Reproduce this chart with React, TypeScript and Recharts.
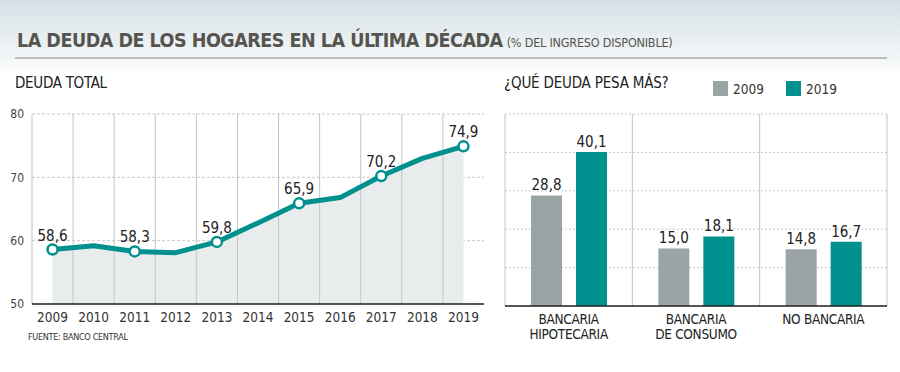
import React from 'react'
import {
  ComposedChart,
  Area,
  Line,
  XAxis,
  YAxis,
  CartesianGrid,
  ReferenceLine,
  BarChart,
  Bar,
  LabelList,
} from 'recharts'

const FONT = "'DejaVu Sans Condensed', 'Liberation Sans Narrow', Roboto, sans-serif"
const TEAL = '#00908e'
const GRAY = '#9aa4a4'

// deuda total, % del ingreso disponible
const years = [2009, 2010, 2011, 2012, 2013, 2014, 2015, 2016, 2017, 2018, 2019]
const totalDebt = [58.6, 59.2, 58.3, 58.1, 59.8, 62.8, 65.9, 66.8, 70.2, 73.0, 74.9]
const labeledYears = [2009, 2011, 2013, 2015, 2017, 2019]
const totalTicks = [50, 60, 70, 80]

// ¿qué deuda pesa más?
const debtTypes = ['BANCARIA|HIPOTECARIA', 'BANCARIA|DE CONSUMO', 'NO BANCARIA']
const debt2009 = [28.8, 15.0, 14.8]
const debt2019 = [40.1, 18.1, 16.7]
const barTicks = [0, 10, 20, 30, 40, 50]

const lineData = years.map((year, i) => ({ year, value: totalDebt[i] }))
const barData = debtTypes.map((name, i) => ({ name, y2009: debt2009[i], y2019: debt2019[i] }))

const fmt = (v: number) => v.toFixed(1).replace('.', ',')

const PointDot = (props: any) => {
  const { cx, cy, payload } = props
  if (!labeledYears.includes(payload.year)) return <g key={payload.year} />
  return <circle key={payload.year} cx={cx} cy={cy} r={5} fill="#fff" stroke={TEAL} strokeWidth={2.5} />
}

const PointLabel = (props: any) => {
  const { x, y, value, index } = props
  if (!labeledYears.includes(years[index])) return null
  return (
    <text x={x} y={y - 9} textAnchor="middle" fontSize={15} fill="#222" fontFamily={FONT}>
      {fmt(value)}
    </text>
  )
}

const CategoryTick = (props: any) => {
  const { x, y, payload } = props
  const lines = String(payload.value).split('|')
  return (
    <text x={x} y={y + 10} textAnchor="middle" fontSize={13.5} fill="#222" fontFamily={FONT} letterSpacing={-0.3}>
      {lines.map((l, i) => (
        <tspan key={i} x={x} dy={i === 0 ? 0 : 15}>
          {l}
        </tspan>
      ))}
    </text>
  )
}

const abs = (left: number, top: number): React.CSSProperties => ({ position: 'absolute', left, top })

export default function App() {
  return (
    <div
      style={{
        position: 'absolute',
        left: 0,
        top: 0,
        width: 900,
        height: 372,
        background: '#fff',
        fontFamily: FONT,
        overflow: 'hidden',
      }}
    >
      <div
        style={{
          ...abs(0, 0),
          width: 900,
          height: 72,
          background: 'linear-gradient(#d5e0e6, #fafbfb)',
        }}
      />
      <div style={{ ...abs(17, 29), whiteSpace: 'nowrap', color: '#57544f', lineHeight: '24px' }}>
        <span style={{ fontSize: 19.5, fontWeight: 'bold', letterSpacing: -0.5 }}>
          LA DEUDA DE LOS HOGARES EN LA ÚLTIMA DÉCADA
        </span>
        <span style={{ fontSize: 12.5, marginLeft: 4, letterSpacing: -0.2 }}>(% DEL INGRESO DISPONIBLE)</span>
      </div>
      <div style={{ ...abs(15, 57), width: 872, height: 2, background: '#bdbdbd' }} />

      <div style={{ ...abs(15, 74), fontSize: 15, color: '#222', whiteSpace: 'nowrap', letterSpacing: -0.3 }}>
        DEUDA TOTAL
      </div>
      <div style={{ ...abs(504, 74), fontSize: 15, color: '#222', whiteSpace: 'nowrap', letterSpacing: -0.2 }}>
        ¿QUÉ DEUDA PESA MÁS?
      </div>

      <div style={{ ...abs(713, 81), width: 15, height: 15, background: GRAY }} />
      <div style={{ ...abs(733, 81), fontSize: 13.5, color: '#333', lineHeight: '16px' }}>2009</div>
      <div style={{ ...abs(786, 81), width: 15, height: 15, background: TEAL }} />
      <div style={{ ...abs(806, 81), fontSize: 13.5, color: '#333', lineHeight: '16px' }}>2019</div>

      <div style={abs(0, 100)}>
        <ComposedChart width={500} height={240} data={lineData} margin={{ top: 14, right: 16, bottom: 6, left: 0 }}>
          <CartesianGrid horizontal vertical={false} stroke="#c9c9c9" strokeDasharray="3 2" />
          <XAxis
            dataKey="year"
            type="number"
            domain={[2008.5, 2019.5]}
            ticks={years}
            tickLine={false}
            axisLine={{ stroke: '#222', strokeWidth: 1.5 }}
            height={30}
            tick={{ fontSize: 13.5, fill: '#333', fontFamily: FONT }}
            interval={0}
          />
          <YAxis
            type="number"
            domain={[50, 80]}
            ticks={totalTicks}
            width={32}
            tickLine={false}
            axisLine={false}
            tick={{ fontSize: 12, fill: '#444', fontFamily: FONT }}
          />
          <Area
            dataKey="value"
            type="linear"
            fill="#e8ecec"
            fillOpacity={1}
            stroke="none"
            isAnimationActive={false}
          />
          <ReferenceLine x={2008.5} stroke="#c4c4c4" />
          {years.slice(0, -1).map((y) => (
            <ReferenceLine key={y} x={y + 0.5} stroke="#c4c4c4" />
          ))}
          <Line
            dataKey="value"
            type="linear"
            stroke={TEAL}
            strokeWidth={5}
            strokeLinejoin="round"
            strokeLinecap="round"
            dot={PointDot}
            activeDot={false}
            isAnimationActive={false}
          >
            <LabelList dataKey="value" content={PointLabel} />
          </Line>
        </ComposedChart>
      </div>

      <div style={abs(480, 100)}>
        <BarChart
          width={420}
          height={250}
          data={barData}
          margin={{ top: 14, right: 13, bottom: 4, left: 25 }}
          barGap={14}
          barSize={31}
        >
          <CartesianGrid horizontal vertical={false} stroke="#c9c9c9" strokeDasharray="2 2" />
          <CartesianGrid
            horizontal={false}
            vertical
            stroke="#c4c4c4"
            verticalCoordinatesGenerator={({ offset }: any) =>
              debtTypes.map((_, i) => offset.left + (i * offset.width) / debtTypes.length).concat(offset.left + offset.width)
            }
          />
          <XAxis
            dataKey="name"
            tickLine={false}
            axisLine={{ stroke: '#222', strokeWidth: 1.5 }}
            height={40}
            tick={CategoryTick}
            interval={0}
          />
          <YAxis hide domain={[0, 50]} ticks={barTicks} />
          <Bar dataKey="y2009" fill={GRAY} isAnimationActive={false}>
            <LabelList dataKey="y2009" position="top" formatter={(v: any) => fmt(Number(v))} fontSize={15} fill="#222" fontFamily={FONT} />
          </Bar>
          <Bar dataKey="y2019" fill={TEAL} isAnimationActive={false}>
            <LabelList dataKey="y2019" position="top" formatter={(v: any) => fmt(Number(v))} fontSize={15} fill="#222" fontFamily={FONT} />
          </Bar>
        </BarChart>
      </div>

      <div style={{ ...abs(28, 332), fontSize: 9, color: '#333', whiteSpace: 'nowrap', letterSpacing: -0.3 }}>
        FUENTE: BANCO CENTRAL
      </div>
    </div>
  )
}
